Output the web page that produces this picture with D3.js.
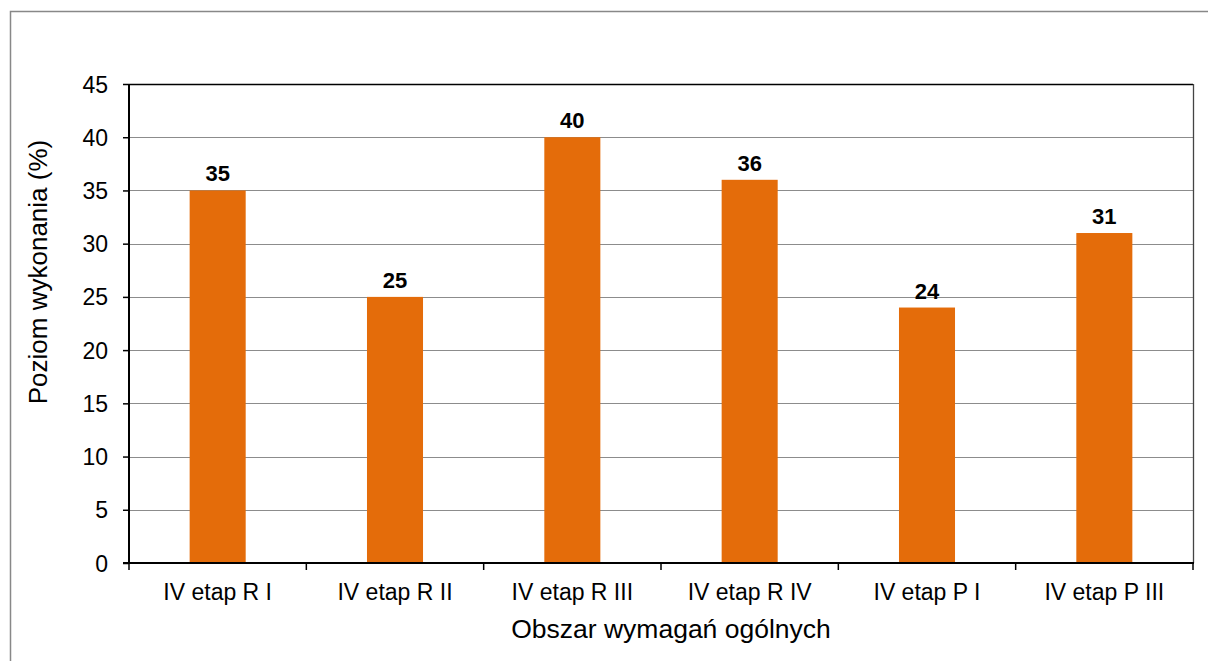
<!DOCTYPE html>
<html>
<head>
<meta charset="utf-8">
<script src="https://cdn.jsdelivr.net/npm/d3@7"></script>
<style>
  body { margin: 0; background: #fff; }
  text { font-family: "Liberation Sans", Arial, sans-serif; fill: #000; }
</style>
</head>
<body>
<svg width="1208" height="661"></svg>
<script>
var categories = ["IV etap R I", "IV etap R II", "IV etap R III", "IV etap R IV", "IV etap P I", "IV etap P III"];
var values = [35, 25, 40, 36, 24, 31];
var yTicks = [0, 5, 10, 15, 20, 25, 30, 35, 40, 45];

var svg = d3.select("svg"),
    plotLeft = 129, plotRight = 1193, plotTop = 84, plotBottom = 563;

// outer frame
svg.append("rect")
    .attr("x", 10.5).attr("y", 11.5)
    .attr("width", 1210).attr("height", 700)
    .attr("fill", "none")
    .attr("stroke", "#888")
    .attr("stroke-width", 1.5);

var x = d3.scaleBand()
    .domain(categories)
    .range([plotLeft, plotRight])
    .paddingInner(0.684)
    .paddingOuter(0.342);

var y = d3.scaleLinear()
    .domain([0, 45])
    .range([plotBottom, plotTop]);

// gridlines
svg.append("g")
    .selectAll("line")
    .data(yTicks.filter(function(d) { return d > 0 && d < 45; }))
    .enter().append("line")
    .attr("x1", plotLeft).attr("x2", plotRight)
    .attr("y1", function(d) { return Math.round(y(d)) + 0.5; })
    .attr("y2", function(d) { return Math.round(y(d)) + 0.5; })
    .attr("stroke", "#8c8c8c")
    .attr("stroke-width", 1);

// plot frame top/right
svg.append("line")
    .attr("x1", plotLeft).attr("x2", plotRight)
    .attr("y1", plotTop + 0.5).attr("y2", plotTop + 0.5)
    .attr("stroke", "#000").attr("stroke-width", 1.3);
svg.append("line")
    .attr("x1", plotRight + 0.5).attr("x2", plotRight + 0.5)
    .attr("y1", plotTop).attr("y2", plotBottom)
    .attr("stroke", "#444").attr("stroke-width", 1.3);

// bars
svg.append("g")
    .selectAll("rect")
    .data(values)
    .enter().append("rect")
    .attr("x", function(d, i) { return x(categories[i]); })
    .attr("y", function(d) { return y(d); })
    .attr("width", x.bandwidth())
    .attr("height", function(d) { return plotBottom - y(d); })
    .attr("fill", "#E46C0A");

// value labels
svg.append("g")
    .selectAll("text")
    .data(values)
    .enter().append("text")
    .attr("x", function(d, i) { return x(categories[i]) + x.bandwidth() / 2; })
    .attr("y", function(d) { return y(d) - 9; })
    .attr("text-anchor", "middle")
    .style("font-size", "22px")
    .style("font-weight", "bold")
    .text(function(d) { return d; });

// y axis
var yAxis = d3.axisLeft(y)
    .tickValues(yTicks)
    .tickSize(6)
    .tickPadding(15);

var gy = svg.append("g")
    .attr("transform", "translate(" + plotLeft + ",0)")
    .call(yAxis);
gy.select(".domain").attr("stroke", "#000").attr("stroke-width", 2).attr("d", "M0," + plotTop + "V" + plotBottom);
gy.selectAll(".tick line").attr("stroke", "#000").attr("stroke-width", 1.5);
gy.selectAll("text").style("font-size", "23px").attr("dy", "0.35em");

// x axis line and ticks at band edges
svg.append("line")
    .attr("x1", plotLeft - 6).attr("x2", plotRight + 1)
    .attr("y1", plotBottom).attr("y2", plotBottom)
    .attr("stroke", "#000").attr("stroke-width", 2);

var edges = categories.map(function(c) { return x(c) - x.step() * 0.342; }).concat([plotRight]);
svg.append("g")
    .selectAll("line")
    .data(edges)
    .enter().append("line")
    .attr("x1", function(d) { return d; })
    .attr("x2", function(d) { return d; })
    .attr("y1", plotBottom).attr("y2", plotBottom + 7)
    .attr("stroke", "#000").attr("stroke-width", 1.5);

svg.append("g")
    .selectAll("text")
    .data(categories)
    .enter().append("text")
    .attr("x", function(d) { return x(d) + x.bandwidth() / 2; })
    .attr("y", 600)
    .attr("text-anchor", "middle")
    .style("font-size", "23px")
    .text(function(d) { return d; });

// axis titles
svg.append("text")
    .attr("x", 671).attr("y", 638)
    .attr("text-anchor", "middle")
    .style("font-size", "26.5px")
    .text("Obszar wymagań ogólnych");

svg.append("text")
    .attr("transform", "translate(47,272) rotate(-90)")
    .attr("text-anchor", "middle")
    .style("font-size", "26px")
    .text("Poziom wykonania (%)");
</script>
</body>
</html>
